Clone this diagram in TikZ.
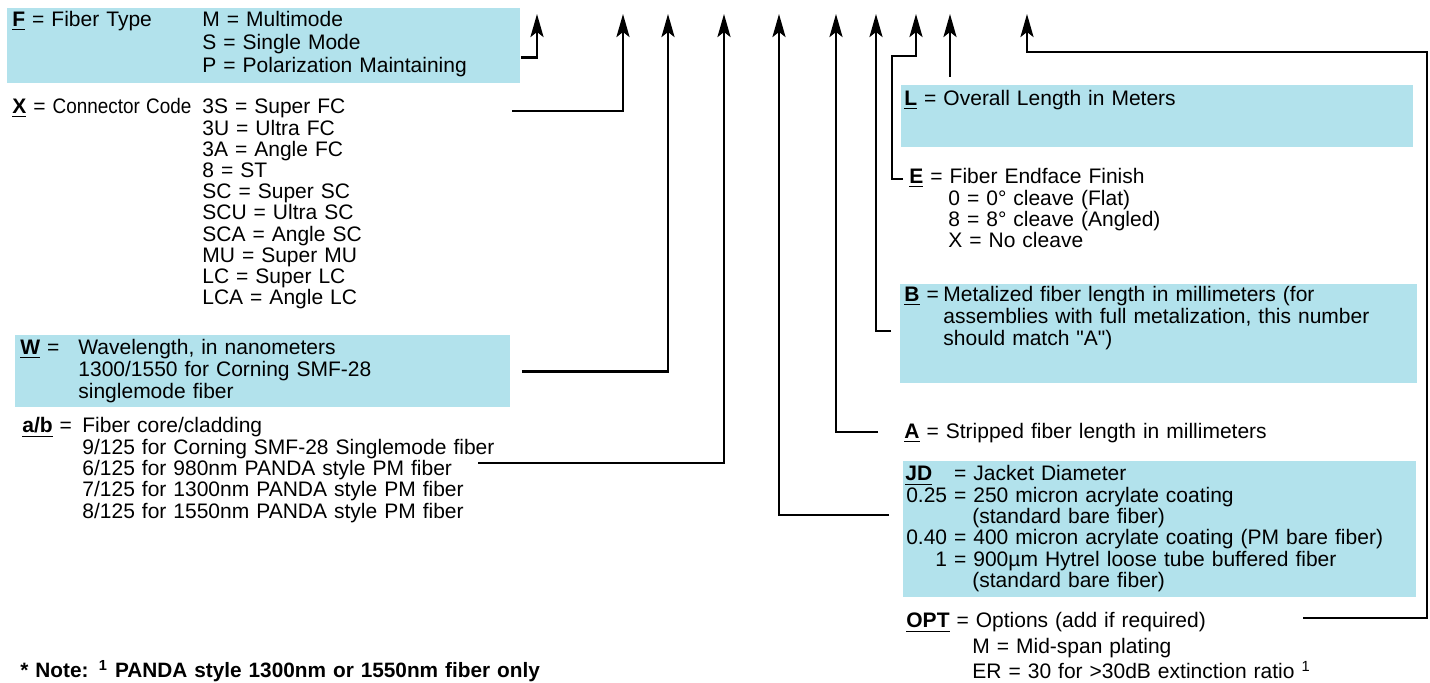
\documentclass[tikz,border=0pt]{standalone}
\usepackage{fontspec}
\setmainfont{Liberation Sans}[Ligatures=TeXOff]
\usetikzlibrary{arrows.meta}
\definecolor{boxblue}{HTML}{B2E2EC}

\begin{document}
\begin{tikzpicture}[>={Stealth[length=11.5pt, width=6.5pt, inset=2.5pt]}, x=0.5pt, y=-0.5pt,
		infobox/.style={fill=boxblue, inner sep=0pt, anchor=north west},
		codetext/.style={anchor=base west, inner sep=0pt, align=left, text width=300pt, font=\fontsize{10.5}{10.65}\selectfont},
		codeline/.style={->, line width=1.35pt}]
			\useasboundingbox (0,0) rectangle (1430,683);

			% Macro for an underlined code letter.
			% Usage: \keyterm{F}
			\newcommand{\keyterm}[1]{\underline{\textbf{#1}}}

			% Macro for a leader from a text block up to its arrow.
			% Usage: \drawleader{start}{tip}
			\newcommand{\drawleader}[2]{
				\draw[codeline] (#1) -| (#2);
			}

			% Shaded boxes
			\node[infobox, minimum width=256.5pt, minimum height=37.5pt] (Fbox) at (7,8) {};
			\node[infobox, minimum width=247.5pt, minimum height=36pt] (Wbox) at (15,335) {};
			\node[infobox, minimum width=256pt, minimum height=31pt] (Lbox) at (901,85) {};
			\node[infobox, minimum width=258.5pt, minimum height=49.5pt] (Bbox) at (900,284) {};
			\node[infobox, minimum width=256.5pt, minimum height=68pt] (JDbox) at (903,461) {};

			% Left column
			\node[codetext, font=\fontsize{10.5}{11.5}\selectfont] (Ftext) at (12,27) {\makebox[95pt][l]{\keyterm{F} = Fiber Type}M = Multimode\\
				\hspace*{95pt}S = Single Mode\\
				\hspace*{95pt}P = Polarization Maintaining};
			\node[codetext, font=\fontsize{10.5}{10.6}\selectfont] (Xtext) at (12,114) {\makebox[95pt][l]{\keyterm{X} = \scalebox{0.9}[1]{Connector Code}}3S = Super FC\\
				\hspace*{95pt}3U = Ultra FC\\
				\hspace*{95pt}3A = Angle FC\\
				\hspace*{95pt}8 = ST\\
				\hspace*{95pt}SC = Super SC\\
				\hspace*{95pt}SCU = Ultra SC\\
				\hspace*{95pt}SCA = Angle SC\\
				\hspace*{95pt}MU = Super MU\\
				\hspace*{95pt}LC = Super LC\\
				\hspace*{95pt}LCA = Angle LC};
			\node[codetext, font=\fontsize{10.5}{11}\selectfont] (Wtext) at (20,355) {\makebox[29pt][l]{\keyterm{W} =}Wavelength, in nanometers\\
				\hspace*{29pt}1300/1550 for Corning SMF-28\\
				\hspace*{29pt}singlemode fiber};
			\node[codetext] (ABtext) at (22,433) {\makebox[30pt][l]{\keyterm{a/b} =}Fiber core/cladding\\
				\hspace*{30pt}9/125 for Corning SMF-28 Singlemode fiber\\
				\hspace*{30pt}6/125 for 980nm PANDA style PM fiber\\
				\hspace*{30pt}7/125 for 1300nm PANDA style PM fiber\\
				\hspace*{30pt}8/125 for 1550nm PANDA style PM fiber};
			\node[codetext, font=\fontsize{10.4}{10.65}\selectfont\bfseries] (note) at (20,678) {* Note: \textsuperscript{1} PANDA style 1300nm or 1550nm fiber only};

			% Right column
			\node[codetext] (Ltext) at (904,106) {\keyterm{L} = Overall Length in Meters};
			\node[codetext] (Etext) at (909,184) {\keyterm{E} = Fiber Endface Finish\\
				\hspace*{19.5pt}0 = 0° cleave (Flat)\\
				\hspace*{19.5pt}8 = 8° cleave (Angled)\\
				\hspace*{19.5pt}X = No cleave};
			\node[codetext, font=\fontsize{10.5}{10.85}\selectfont] (Btext) at (904,302) {\makebox[19.5pt][l]{\keyterm{B} =}Metalized fiber length in millimeters (for\\
				\hspace*{19.5pt}assemblies with full metalization, this number\\
				\hspace*{19.5pt}should match "A")};
			\node[codetext] (Atext) at (904,439) {\keyterm{A} = Stripped fiber length in millimeters};
			\node[codetext] (JDtext) at (905,481) {\makebox[30.5pt][s]{\keyterm{JD}\hfill=} Jacket Diameter\\
				\makebox[30.5pt][r]{0.25 =} 250 micron acrylate coating\\
				\hspace*{33.5pt}(standard bare fiber)\\
				\makebox[30.5pt][r]{0.40 =} 400 micron acrylate coating (PM bare fiber)\\
				\makebox[30.5pt][r]{1 =} 900µm Hytrel loose tube buffered fiber\\
				\hspace*{33.5pt}(standard bare fiber)};
			\node[codetext, font=\fontsize{10.5}{12.75}\selectfont] (OPTtext) at (906,628) {\keyterm{OPT} = Options (add if required)\\
				\hspace*{33pt}M = Mid-span plating\\
				\hspace*{33pt}ER = 30 for >30dB extinction ratio \textsuperscript{1}};

			% Arrow tips along the top
			\coordinate (tipF) at (537,14);
			\coordinate (tipX) at (623,14);
			\coordinate (tipW) at (668,14);
			\coordinate (tipAB) at (724,14);
			\coordinate (tipJD) at (779,14);
			\coordinate (tipA) at (836,14);
			\coordinate (tipB) at (876,14);
			\coordinate (tipE) at (916,14);
			\coordinate (tipL) at (950,14);
			\coordinate (tipOPT) at (1027,14);

			% Free ends of the leaders
			\coordinate (endX) at (512,111);
			\coordinate (endAB) at (478,463);
			\coordinate (endJD) at (889,515);
			\coordinate (endA) at (878,432);
			\coordinate (endB) at (891,331);
			\coordinate (endE) at (903,179);
			\coordinate (bendE) at (892,56);
			\coordinate (endL) at (950,77);
			\coordinate (endOPT) at (1303,618);
			\coordinate (bendOPT) at (1427,52);

			% Leaders
			\drawleader{[yshift=-5.75pt]Fbox.east}{tipF};
			\drawleader{endX}{tipX};
			\drawleader{[xshift=5.5pt]Wbox.east}{tipW};
			\drawleader{endAB}{tipAB};
			\drawleader{endJD}{tipJD};
			\drawleader{endA}{tipA};
			\drawleader{endB}{tipB};
			\draw[codeline] (endE) -| (bendE) -| (tipE);
			\draw[codeline] (endL) -- (tipL);
			\draw[codeline] (endOPT) -| (bendOPT) -| (tipOPT);
		\end{tikzpicture}
\end{document}
